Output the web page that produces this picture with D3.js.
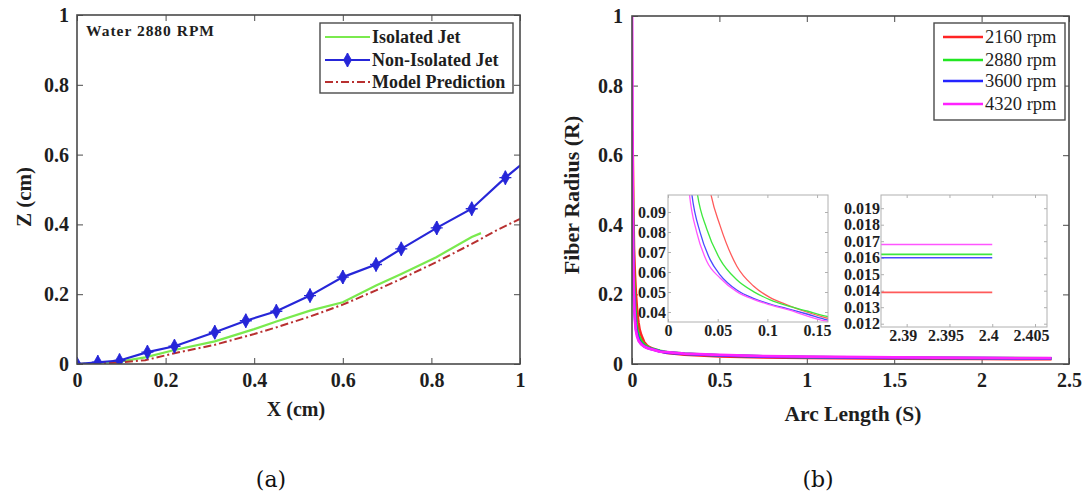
<!DOCTYPE html>
<html>
<head>
<meta charset="utf-8">
<script src="https://cdn.jsdelivr.net/npm/d3@7/dist/d3.min.js"></script>
<style>
  html, body { margin: 0; padding: 0; background: #fff; }
  svg { display: block; }
</style>
</head>
<body>
<svg id="fig" width="1091" height="495"></svg>
<script>
// ---------- (a) jet trajectory, water at 2880 RPM ----------
const jetX_iso   = [0, 0.096, 0.154, 0.220, 0.311, 0.400, 0.450, 0.526, 0.600, 0.675, 0.732, 0.811, 0.891, 0.912];
const jetZ_iso   = [0, 0.007, 0.019, 0.040, 0.065, 0.100, 0.122, 0.153, 0.177, 0.225, 0.258, 0.306, 0.364, 0.375];
const jetX_non   = [0, 0.047, 0.096, 0.159, 0.220, 0.311, 0.381, 0.450, 0.526, 0.600, 0.675, 0.732, 0.812, 0.891, 0.967, 1.03];
const jetZ_non   = [0, 0.005, 0.010, 0.034, 0.051, 0.091, 0.124, 0.151, 0.196, 0.249, 0.285, 0.330, 0.390, 0.445, 0.534, 0.600];
const jetX_model = [0, 0.096, 0.154, 0.220, 0.311, 0.400, 0.450, 0.526, 0.600, 0.675, 0.732, 0.811, 0.891, 0.947, 1.0];
const jetZ_model = [0, 0.004, 0.011, 0.031, 0.055, 0.086, 0.105, 0.136, 0.170, 0.211, 0.244, 0.292, 0.344, 0.383, 0.416];
const legendA = ["Isolated Jet", "Non-Isolated Jet", "Model Prediction"];
const ticksA = [0, 0.2, 0.4, 0.6, 0.8, 1];

// ---------- (b) fiber radius along arc length ----------
const rpmLabels = ["2160 rpm", "2880 rpm", "3600 rpm", "4320 rpm"];
// near-nozzle drop (s, R)
const headS = [
  [0, 0.004, 0.007, 0.011, 0.016, 0.022, 0.030, 0.037],
  [0, 0.004, 0.007, 0.011, 0.016, 0.022, 0.026],
  [0, 0.003, 0.006, 0.009, 0.013, 0.018, 0.021],
  [0, 0.002, 0.004, 0.007, 0.010, 0.014, 0.018]
];
const headR = [
  [0.67, 0.60, 0.45, 0.33, 0.26, 0.20, 0.145, 0.118],
  [0.63, 0.50, 0.36, 0.25, 0.18, 0.135, 0.113],
  [0.60, 0.50, 0.32, 0.23, 0.17, 0.13, 0.113],
  [1.00, 0.80, 0.50, 0.30, 0.21, 0.155, 0.12]
];
// early decay, s = 0.02 .. 0.16
const midS = [
  [0.0430, 0.0524, 0.0693, 0.0860, 0.1028, 0.1197, 0.1364, 0.160],
  [0.0295, 0.0390, 0.0524, 0.0692, 0.0860, 0.1028, 0.1197, 0.1398, 0.160],
  [0.0239, 0.0323, 0.0423, 0.0524, 0.0692, 0.0860, 0.1028, 0.1197, 0.1398, 0.160],
  [0.0215, 0.0289, 0.0390, 0.0524, 0.0692, 0.0860, 0.1028, 0.1197, 0.160]
];
const midR = [
  [0.0993, 0.0832, 0.0629, 0.0530, 0.0472, 0.0436, 0.0405, 0.0370],
  [0.0993, 0.0815, 0.0663, 0.0561, 0.0502, 0.0461, 0.0432, 0.0405, 0.0378],
  [0.0993, 0.0798, 0.0663, 0.0586, 0.0510, 0.0468, 0.0440, 0.0417, 0.0390, 0.0361],
  [0.0993, 0.0798, 0.0654, 0.0570, 0.0502, 0.0463, 0.0436, 0.0413, 0.0354]
];
// far field
const tailS = [0.2, 0.3, 0.5, 0.75, 1.0, 1.5, 2.0, 2.4];
const tailR = [
  [0.032, 0.027, 0.022, 0.019, 0.0175, 0.0158, 0.0147, 0.0139],
  [0.034, 0.030, 0.025, 0.022, 0.0200, 0.0180, 0.0168, 0.0162],
  [0.033, 0.029, 0.0245, 0.0215, 0.0198, 0.0178, 0.0166, 0.0160],
  [0.034, 0.030, 0.026, 0.0228, 0.0210, 0.0188, 0.0175, 0.0168]
];
// end values near s = 2.4
const endS = [2.385, 2.4];
const endR = [0.0139, 0.0162, 0.0160, 0.0168];

const ticksBx = [0, 0.5, 1, 1.5, 2, 2.5];
const ticksBy = [0, 0.2, 0.4, 0.6, 0.8, 1];
const ticksIn1x = [0, 0.05, 0.1, 0.15];
const ticksIn1y = [0.04, 0.05, 0.06, 0.07, 0.08, 0.09];
const ticksIn2x = [2.39, 2.395, 2.4, 2.405];
const ticksIn2y = [0.012, 0.013, 0.014, 0.015, 0.016, 0.017, 0.018, 0.019];

const rpmColors = ["#ff2424", "#22e622", "#2424ff", "#ff22ff"];
const insetColors = ["#ff5a5a", "#3ee83e", "#4a4aff", "#ff55ff"];

const svg = d3.select("#fig");
svg.append("rect").attr("width", 1091).attr("height", 495).attr("fill", "#fff");
const defs = svg.append("defs");
const SERIF = '"Liberation Serif", "DejaVu Serif", serif';
const INK = "#1e1e1e";

let clipN = 0;
function panel(box, xDom, yDom, xt, yt, o) {
  const x = d3.scaleLinear().domain(xDom).range([box.x0, box.x1]);
  const y = d3.scaleLinear().domain(yDom).range([box.y1, box.y0]);
  const g = svg.append("g");
  g.append("rect").attr("x", box.x0).attr("y", box.y0)
    .attr("width", box.x1 - box.x0).attr("height", box.y1 - box.y0)
    .attr("fill", "#fff");
  const id = "clip" + (clipN++);
  defs.append("clipPath").attr("id", id).append("rect")
    .attr("x", box.x0).attr("y", box.y0)
    .attr("width", box.x1 - box.x0).attr("height", box.y1 - box.y0);
  const fmt = o.fmt || (d => String(d));
  const ax = (axis, tr, labels) => {
    const a = g.append("g").attr("transform", tr).call(axis);
    a.select(".domain").remove();
    a.selectAll(".tick line").attr("stroke", o.frame).attr("stroke-width", 1);
    if (!labels) a.selectAll(".tick text").remove();
    else a.selectAll(".tick text")
      .style("font-family", SERIF).style("font-weight", "bold")
      .style("font-size", o.fs + "px").style("fill", INK);
    return a;
  };
  const bx = ax(d3.axisBottom(x).tickValues(xt).tickFormat(fmt).tickSize(-o.tk).tickPadding(o.padX),
     `translate(0,${box.y1})`, true);
  if (o.xShift) bx.selectAll(".tick text").attr("dx", o.xShift);
  ax(d3.axisTop(x).tickValues(xt).tickSize(-o.tk), `translate(0,${box.y0})`, false);
  ax(d3.axisLeft(y).tickValues(yt).tickFormat(fmt).tickSize(-o.tk).tickPadding(o.padY),
     `translate(${box.x0},0)`, true);
  ax(d3.axisRight(y).tickValues(yt).tickSize(-o.tk), `translate(${box.x1},0)`, false);
  const plot = g.append("g").attr("clip-path", `url(#${id})`);
  const frame = () => g.append("rect").attr("x", box.x0).attr("y", box.y0)
    .attr("width", box.x1 - box.x0).attr("height", box.y1 - box.y0)
    .attr("fill", "none").attr("stroke", o.frame).attr("stroke-width", o.fw);
  return { x, y, g, plot, frame };
}

// ================= (a) =================
const A = panel({ x0: 77, x1: 520, y0: 15, y1: 364 }, [0, 1], [0, 1], ticksA, ticksA,
  { frame: "#4a4a4a", fw: 1.6, tk: 6, padX: 9, padY: 8, fs: 20 });
const lineA = d3.line().x(d => A.x(d[0])).y(d => A.y(d[1]));
const isoPts = jetX_iso.map((v, i) => [v, jetZ_iso[i]]);
const nonPts = jetX_non.map((v, i) => [v, jetZ_non[i]]);
const modPts = jetX_model.map((v, i) => [v, jetZ_model[i]]);
const cIso = "#7aea4e", cNon = "#2626d8", cMod = "#b83030";
A.plot.append("path").attr("d", lineA(isoPts)).attr("fill", "none")
  .attr("stroke", cIso).attr("stroke-width", 2.2);
A.plot.append("path").attr("d", lineA(modPts)).attr("fill", "none")
  .attr("stroke", cMod).attr("stroke-width", 2).attr("stroke-dasharray", "8,3,2,3");
A.plot.append("path").attr("d", lineA(nonPts)).attr("fill", "none")
  .attr("stroke", cNon).attr("stroke-width", 2.2);
const diamond = d3.symbol().type(d3.symbolDiamond).size(55);
function marker(sel, cx, cy) {
  sel.append("path").attr("d", diamond()).attr("transform", `translate(${cx},${cy})`)
    .attr("fill", cNon).attr("stroke", cNon).attr("stroke-width", 0.8);
  sel.append("path").attr("d", `M${cx - 6},${cy}H${cx + 6}M${cx},${cy - 7}V${cy + 7}`)
    .attr("stroke", cNon).attr("stroke-width", 1.4);
}
nonPts.forEach(p => marker(A.plot, A.x(p[0]), A.y(p[1])));
A.frame();

A.g.append("text").attr("x", 86).attr("y", 36).text("Water 2880 RPM")
  .attr("textLength", 128).attr("lengthAdjust", "spacing")
  .attr("font-family", SERIF).attr("font-weight", "bold").attr("font-size", 15.5).attr("fill", INK);

// legend (a)
const lgA = A.g.append("g");
lgA.append("rect").attr("x", 320).attr("y", 23).attr("width", 193).attr("height", 70)
  .attr("fill", "#fff").attr("stroke", "#4a4a4a").attr("stroke-width", 1.4);
const lgAy = [37, 60, 82];
legendA.forEach((t, i) => {
  const yy = lgAy[i];
  const ln = lgA.append("line").attr("x1", 325).attr("x2", 370).attr("y1", yy).attr("y2", yy)
    .attr("stroke", [cIso, cNon, cMod][i]).attr("stroke-width", 2);
  if (i === 2) ln.attr("stroke-dasharray", "8,3,2,3");
  if (i === 1) marker(lgA, 347.5, yy);
  lgA.append("text").attr("x", 372).attr("y", yy + 6).text(t)
    .attr("font-family", SERIF).attr("font-weight", "bold").attr("font-size", 18).attr("fill", INK);
});

// axis titles (a)
svg.append("text").attr("x", 296).attr("y", 416).attr("text-anchor", "middle").text("X (cm)")
  .attr("font-family", SERIF).attr("font-weight", "bold").attr("font-size", 20).attr("fill", INK);
svg.append("text").attr("transform", "translate(31,197) rotate(-90)").attr("text-anchor", "middle")
  .text("Z (cm)").attr("font-family", SERIF).attr("font-weight", "bold").attr("font-size", 21).attr("fill", INK);

// ================= (b) =================
const B = panel({ x0: 632, x1: 1069, y0: 16, y1: 364 }, [0, 2.5], [0, 1], ticksBx, ticksBy,
  { frame: "#4a4a4a", fw: 1.6, tk: 6, padX: 9, padY: 9, fs: 20 });
const lineB = d3.line().x(d => B.x(d[0])).y(d => B.y(d[1]));
const mainPts = rpmLabels.map((_, k) => [
  ...headS[k].map((s, i) => [s, headR[k][i]]),
  ...midS[k].map((s, i) => [s, midR[k][i]]),
  ...tailS.map((s, i) => [s, tailR[k][i]])
]);
mainPts.forEach((pts, k) => {
  B.plot.append("path").attr("d", lineB(pts)).attr("fill", "none")
    .attr("stroke", rpmColors[k]).attr("stroke-width", 2.8).attr("stroke-linejoin", "round");
});
B.frame();

// legend (b)
const lgB = B.g.append("g");
lgB.append("rect").attr("x", 934).attr("y", 23).attr("width", 131).attr("height", 97)
  .attr("fill", "#fff").attr("stroke", "#4a4a4a").attr("stroke-width", 1.4);
const lgBy = [37, 60, 81, 104];
rpmLabels.forEach((t, k) => {
  lgB.append("line").attr("x1", 943).attr("x2", 983).attr("y1", lgBy[k]).attr("y2", lgBy[k])
    .attr("stroke", rpmColors[k]).attr("stroke-width", 2.4);
  lgB.append("text").attr("x", 985).attr("y", lgBy[k] + 6).text(t)
    .attr("font-family", SERIF).attr("font-size", 18.5).attr("fill", INK);
});

// inset: early decay
const I1 = panel({ x0: 668, x1: 828, y0: 195, y1: 322 }, [0, 0.161], [0.035, 0.0985], ticksIn1x, ticksIn1y,
  { frame: "#b0b0b0", fw: 1, tk: 3, padX: 3, padY: 2, fs: 16, fmt: d => String(d) });
const lineI1 = d3.line().curve(d3.curveMonotoneX).x(d => I1.x(d[0])).y(d => I1.y(d[1]));
mainPts.forEach((pts, k) => {
  I1.plot.append("path").attr("d", lineI1(pts.filter(p => p[0] > 0.012 && p[0] <= 0.2)))
    .attr("fill", "none").attr("stroke", insetColors[k]).attr("stroke-width", 1.3);
});
I1.frame();

// inset: far end
const I2 = panel({ x0: 881, x1: 1047, y0: 195, y1: 327 }, [2.387, 2.4064], [0.0118, 0.0198], ticksIn2x, ticksIn2y,
  { frame: "#b0b0b0", fw: 1, tk: 3, padX: 3, padY: 1, fs: 16, xShift: -4, fmt: d => String(d) });
const lineI2 = d3.line().x(d => I2.x(d[0])).y(d => I2.y(d[1]));
endR.forEach((r, k) => {
  I2.plot.append("path").attr("d", lineI2(endS.map(s => [s, r])))
    .attr("fill", "none").attr("stroke", insetColors[k]).attr("stroke-width", 1.6);
});
I2.frame();

// axis titles (b)
svg.append("text").attr("x", 853).attr("y", 421).attr("text-anchor", "middle").text("Arc Length (S)")
  .attr("font-family", SERIF).attr("font-weight", "bold").attr("font-size", 21.5).attr("fill", INK);
svg.append("text").attr("transform", "translate(579,195) rotate(-90)").attr("text-anchor", "middle")
  .text("Fiber Radius (R)").attr("font-family", SERIF).attr("font-weight", "bold").attr("font-size", 22).attr("fill", INK);

// panel captions
svg.append("text").attr("x", 271).attr("y", 487).attr("text-anchor", "middle").text("(a)")
  .attr("font-family", '"DejaVu Serif", serif').attr("font-size", 22).attr("fill", "#111");
svg.append("text").attr("x", 818).attr("y", 487).attr("text-anchor", "middle").text("(b)")
  .attr("font-family", '"DejaVu Serif", serif').attr("font-size", 22).attr("fill", "#111");
</script>
</body>
</html>
